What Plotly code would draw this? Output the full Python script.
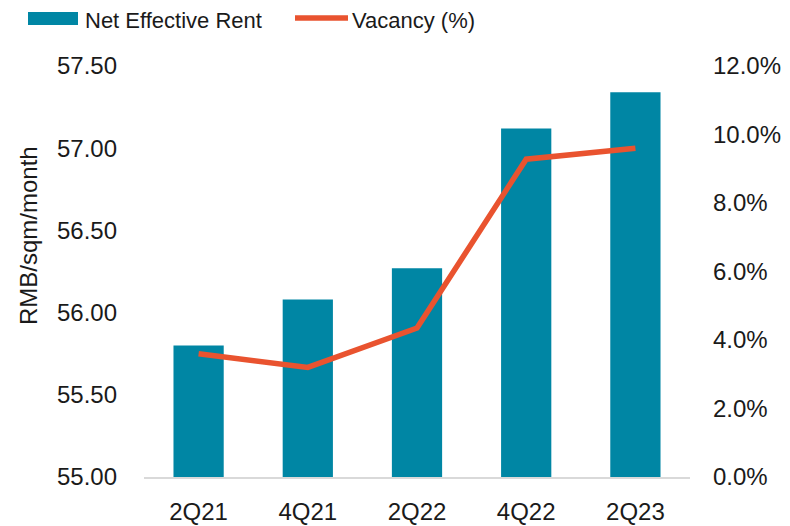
import plotly.graph_objects as go

# data
quarters = ['2Q21', '4Q21', '2Q22', '4Q22', '2Q23']
net_effective_rent = [55.80, 56.08, 56.27, 57.12, 57.34]   # RMB/sqm/month
vacancy = [0.036, 0.032, 0.0435, 0.0928, 0.096]            # share of stock

left_ticks = [55.0, 55.5, 56.0, 56.5, 57.0, 57.5]
right_ticks = [0.0, 0.02, 0.04, 0.06, 0.08, 0.10, 0.12]

bar_color = '#0086A4'
line_color = '#E9532F'
base = 55.0

# the page body keeps an 8px margin, so the figure is made smaller to fit
page_pad = 8
plot_w, plot_h = 546, 411


def px_x(x):
    # screen pixel -> paper x
    return (x - 144) / plot_w


def px_y(y):
    # screen pixel -> paper y
    return (477 - y) / plot_h


fig = go.Figure()

# Bars on the left axis (drawn up from the axis floor)
fig.add_trace(go.Bar(x=quarters, y=[v - base for v in net_effective_rent],
                     base=base,
                     name='Net Effective Rent',
                     marker=dict(color=bar_color, line=dict(width=0)),
                     yaxis='y'))

# Vacancy line on the right axis
fig.add_trace(go.Scatter(x=quarters, y=vacancy,
                         name='Vacancy (%)',
                         mode='lines',
                         line=dict(color=line_color, width=5.5),
                         yaxis='y2'))

# Legend drawn by hand so the swatches match the long Excel-style keys
fig.add_shape(type='rect', xref='paper', yref='paper',
              x0=px_x(28), x1=px_x(78), y0=px_y(25), y1=px_y(12),
              fillcolor=bar_color, line=dict(width=0))
fig.add_shape(type='line', xref='paper', yref='paper',
              x0=px_x(295), x1=px_x(348), y0=px_y(18), y1=px_y(18),
              line=dict(color=line_color, width=5.5))
fig.add_annotation(text='Net Effective Rent', xref='paper', yref='paper',
                   x=px_x(84), y=px_y(20.5), xanchor='left', yanchor='middle',
                   showarrow=False, borderpad=0, font=dict(size=22))
fig.add_annotation(text='Vacancy (%)', xref='paper', yref='paper',
                   x=px_x(351), y=px_y(20.5), xanchor='left', yanchor='middle',
                   showarrow=False, borderpad=0, font=dict(size=22))

# Left axis title sits above the plot centre in the reference
fig.add_annotation(text='RMB/sqm/month', xref='paper', yref='paper',
                   x=px_x(28), y=px_y(236), textangle=-90,
                   xanchor='center', yanchor='middle', showarrow=False,
                   font=dict(size=24))

fig.update_layout(
    width=790 - page_pad, height=526 - page_pad,
    margin=dict(l=144 - page_pad, r=100, t=66 - page_pad, b=49, autoexpand=False),
    plot_bgcolor='white', paper_bgcolor='white',
    font=dict(family='Liberation Sans, Arial, sans-serif', color='#1a1a1a'),
    bargap=0.54,
    showlegend=False,
    xaxis=dict(showgrid=False, showline=True, linecolor='#D9D9D9', linewidth=2,
               ticks='', tickfont=dict(size=24), ticklabelstandoff=12,
               automargin=False),
    yaxis=dict(range=[55.0, 57.5], tickvals=left_ticks, tickformat='.2f',
               showgrid=False, zeroline=False, showline=False,
               tickfont=dict(size=24), ticklabelstandoff=26, automargin=False),
    yaxis2=dict(range=[0.0, 0.12], tickvals=right_ticks, tickformat='.1%',
                overlaying='y', side='right',
                showgrid=False, zeroline=False, showline=False,
                tickfont=dict(size=24), ticklabelstandoff=22, automargin=False),
)

fig.write_html("out.html")
